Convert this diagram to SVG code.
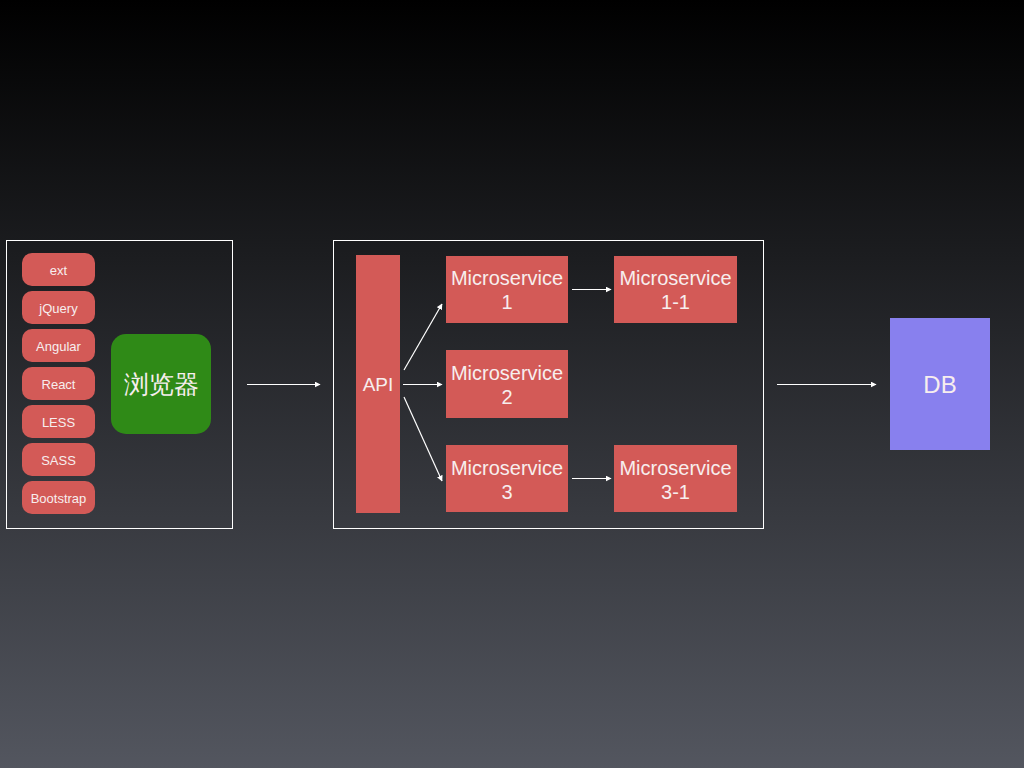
<svg xmlns="http://www.w3.org/2000/svg" width="1024" height="768" viewBox="0 0 1024 768">
  <defs>
    <linearGradient id="bg" x1="0" y1="0" x2="0" y2="1">
      <stop offset="0" stop-color="#000000"/>
      <stop offset="1" stop-color="#53565f"/>
    </linearGradient>
    <marker id="ah" viewBox="0 0 10 10" refX="9" refY="5" markerWidth="6" markerHeight="6" markerUnits="userSpaceOnUse" orient="auto">
      <path d="M0,0 L10,5 L0,10 Z" fill="#ffffff"/>
    </marker>
    <style>
      .frame { fill: none; stroke: #ffffff; stroke-width: 1; }
      .pill { fill: #d35a57; }
      .box { fill: #d35a57; }
      .t { font-family: "Liberation Sans", Arial, sans-serif; fill: #f7eeee; text-anchor: middle; }
      .ps { font-size: 13px; }
      .ms { font-size: 20px; }
      .conn { stroke: #ffffff; stroke-width: 1.2; fill: none; marker-end: url(#ah); }
    </style>
  </defs>
  <rect x="0" y="0" width="1024" height="768" fill="url(#bg)"/>

  <g id="client-frame">
    <rect class="frame" x="6.5" y="240.5" width="226" height="288"/>
  </g>
  <g id="ext"><rect class="pill" x="22" y="253" width="73" height="33" rx="10"/><text class="t ps" x="58.5" y="274.5">ext</text></g>
  <g id="jquery"><rect class="pill" x="22" y="291" width="73" height="33" rx="10"/><text class="t ps" x="58.5" y="312.5">jQuery</text></g>
  <g id="angular"><rect class="pill" x="22" y="329" width="73" height="33" rx="10"/><text class="t ps" x="58.5" y="350.5">Angular</text></g>
  <g id="react"><rect class="pill" x="22" y="367" width="73" height="33" rx="10"/><text class="t ps" x="58.5" y="388.5">React</text></g>
  <g id="less"><rect class="pill" x="22" y="405" width="73" height="33" rx="10"/><text class="t ps" x="58.5" y="426.5">LESS</text></g>
  <g id="sass"><rect class="pill" x="22" y="443" width="73" height="33" rx="10"/><text class="t ps" x="58.5" y="464.5">SASS</text></g>
  <g id="bootstrap"><rect class="pill" x="22" y="481" width="73" height="33" rx="10"/><text class="t ps" x="58.5" y="502.5">Bootstrap</text></g>
  <g id="browser">
    <rect x="111" y="334" width="100" height="100" rx="15" fill="#2f8a17"/>
    <text class="t" x="161" y="393" font-size="25" font-family="'Noto Sans CJK SC', 'Liberation Sans', sans-serif">浏览器</text>
  </g>

  <g id="service-frame">
    <rect class="frame" x="333.5" y="240.5" width="430" height="288"/>
  </g>
  <g id="api"><rect class="box" x="356" y="255" width="44" height="258"/><text class="t" x="378" y="391" font-size="19">API</text></g>
  <g id="ms1"><rect class="box" x="446" y="256" width="122" height="67"/><text class="t ms" x="507" y="285">Microservice</text><text class="t ms" x="507" y="309">1</text></g>
  <g id="ms2"><rect class="box" x="446" y="350" width="122" height="68"/><text class="t ms" x="507" y="380">Microservice</text><text class="t ms" x="507" y="404">2</text></g>
  <g id="ms3"><rect class="box" x="446" y="445" width="122" height="67"/><text class="t ms" x="507" y="475">Microservice</text><text class="t ms" x="507" y="499">3</text></g>
  <g id="ms1-1"><rect class="box" x="614" y="256" width="123" height="67"/><text class="t ms" x="675.5" y="285">Microservice</text><text class="t ms" x="675.5" y="309">1-1</text></g>
  <g id="ms3-1"><rect class="box" x="614" y="445" width="123" height="67"/><text class="t ms" x="675.5" y="475">Microservice</text><text class="t ms" x="675.5" y="499">3-1</text></g>

  <g id="db"><rect x="890" y="318" width="100" height="132" fill="#8880ee"/><text class="t" x="940" y="393" font-size="24">DB</text></g>

  <g id="connectors">
    <line class="conn" x1="247" y1="384.5" x2="320" y2="384.5"/>
    <line class="conn" x1="404" y1="370" x2="442" y2="304"/>
    <line class="conn" x1="403" y1="384.5" x2="442" y2="384.5"/>
    <line class="conn" x1="404" y1="397" x2="442" y2="481"/>
    <line class="conn" x1="572" y1="289.5" x2="611" y2="289.5"/>
    <line class="conn" x1="572" y1="478.5" x2="611" y2="478.5"/>
    <line class="conn" x1="777" y1="384.5" x2="876" y2="384.5"/>
  </g>
</svg>
